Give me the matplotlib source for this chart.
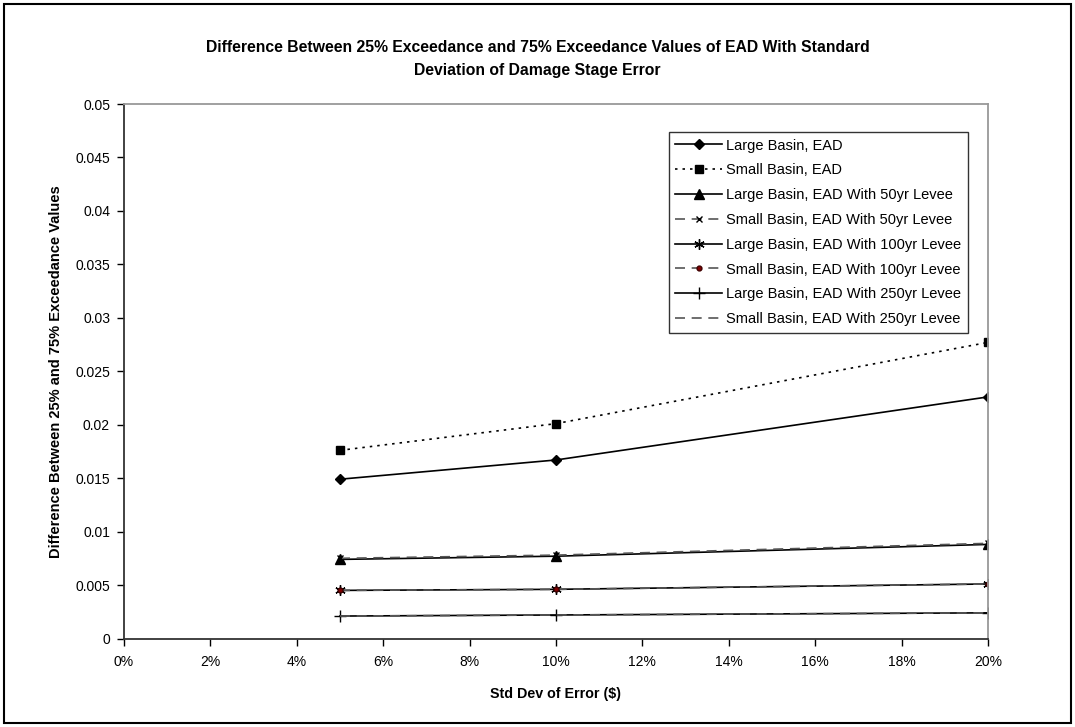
import matplotlib
matplotlib.use("Agg")
import matplotlib.pyplot as plt
from matplotlib.patches import Rectangle
from matplotlib.ticker import FuncFormatter, MultipleLocator

plt.rcParams['font.family'] = ['Liberation Sans', 'DejaVu Sans']

x_vals = [0.05, 0.10, 0.20]
large_ead = [0.0149, 0.0167, 0.0226]
small_ead = [0.0176, 0.0201, 0.0277]
large_50 = [0.0074, 0.0077, 0.0088]
small_50 = [0.0075, 0.0078, 0.0089]
large_100 = [0.0045, 0.0046, 0.0051]
small_100 = [0.0045, 0.0046, 0.0051]
large_250 = [0.0021, 0.0022, 0.0024]
small_250 = [0.0021, 0.0022, 0.0024]

labels = ["Large Basin, EAD", "Small Basin, EAD",
          "Large Basin, EAD With 50yr Levee", "Small Basin, EAD With 50yr Levee",
          "Large Basin, EAD With 100yr Levee", "Small Basin, EAD With 100yr Levee",
          "Large Basin, EAD With 250yr Levee", "Small Basin, EAD With 250yr Levee"]

title = "Difference Between 25% Exceedance and 75% Exceedance Values of EAD With Standard\nDeviation of Damage Stage Error"
xlabel = "Std Dev of Error ($)"
ylabel = "Difference Between 25% and 75% Exceedance Values"

fig = plt.figure(figsize=(10.75, 7.27), dpi=100)
ax = fig.add_axes([124/1075, 1-638.5/727, 864/1075, 534.5/727])

ax.plot(x_vals, large_ead, color='black', lw=1.2, ls='-', marker='D', ms=5, label=labels[0])
ax.plot(x_vals, small_ead, color='black', lw=1.2, ls=(0, (1.5, 3)), marker='s', ms=6, label=labels[1])
ax.plot(x_vals, large_50, color='black', lw=1.2, ls='-', marker='^', ms=6.5, label=labels[2])
ax.plot(x_vals, small_50, color='#555555', lw=1.2, ls=(0, (6, 4)), marker='x', ms=5, mec='black', label=labels[3])
ax.plot(x_vals, large_100, color='black', lw=1.2, ls='-', marker=(6, 2, 0), ms=7.5, mew=1.0, label=labels[4])
ax.plot(x_vals, small_100, color='#555555', lw=1.2, ls=(0, (6, 4)), marker='o', ms=3.5, mfc='#800000', mec='#400000', label=labels[5])
ax.plot(x_vals, large_250, color='black', lw=1.2, ls='-', marker='+', ms=8, mew=1.0, label=labels[6])
ax.plot(x_vals, small_250, color='#555555', lw=1.2, ls=(0, (6, 4)), label=labels[7])

ax.set_xlim(0, 0.20)
ax.set_ylim(0, 0.05)
ax.xaxis.set_major_locator(MultipleLocator(0.02))
ax.yaxis.set_major_locator(MultipleLocator(0.005))
ax.xaxis.set_major_formatter(FuncFormatter(lambda v, p: f"{v*100:.0f}%"))
ax.yaxis.set_major_formatter(FuncFormatter(lambda v, p: "0" if abs(v) < 1e-12 else f"{v:g}"))
ax.tick_params(axis='both', direction='out', length=5, width=1, colors='black', labelsize=10)
ax.tick_params(axis='x', pad=7)
ax.tick_params(axis='y', pad=5)

for side in ['top', 'right']:
    ax.spines[side].set_color('#999999')
    ax.spines[side].set_linewidth(1.3)
for side in ['left', 'bottom']:
    ax.spines[side].set_color('#333333')
    ax.spines[side].set_linewidth(1.3)

ax.set_xlabel(xlabel, fontsize=10.3, fontweight='bold', labelpad=13)
ax.set_ylabel(ylabel, fontsize=10.5, fontweight='bold', labelpad=9)

fig.text(0.5, 1-59/727, title, ha='center', va='center', fontsize=11.3, fontweight='bold', linespacing=1.7)

leg = ax.legend(loc='upper right', bbox_to_anchor=((968-124)/864, (638.5-132)/534.5),
                fontsize=10.5, frameon=True, fancybox=False, edgecolor='black',
                handlelength=3.2, handletextpad=0.3, labelspacing=0.74, borderpad=0.45,
                borderaxespad=0)
leg.get_frame().set_linewidth(1.0)

fig.patches.append(Rectangle((4/1075, 4/727), 1-8/1075, 1-8/727, transform=fig.transFigure,
                             fill=False, edgecolor='black', lw=1.5))

fig.savefig("out.png", dpi=100)
